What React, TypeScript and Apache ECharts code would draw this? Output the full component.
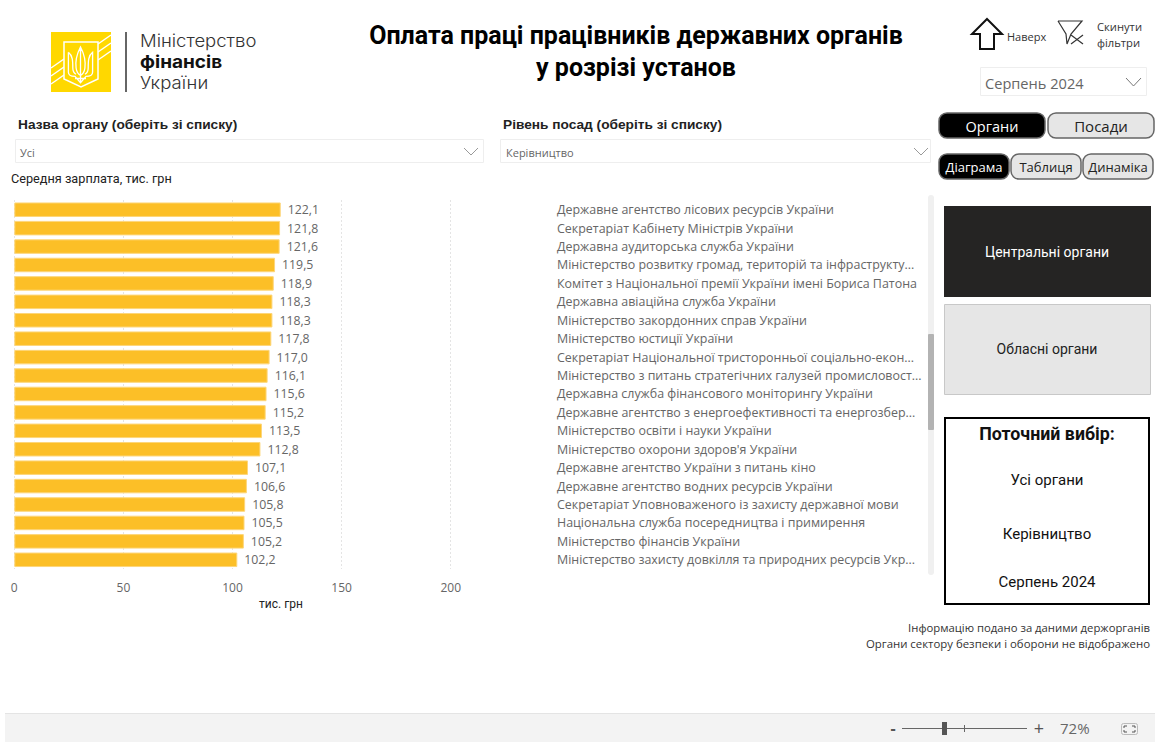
import React, { useEffect, useRef } from "react";
import * as echarts from "echarts";

const categories = [
  "Державне агентство лісових ресурсів України",
  "Секретаріат Кабінету Міністрів України",
  "Державна аудиторська служба України",
  "Міністерство розвитку громад, територій та інфраструкту...",
  "Комітет з Національної премії України імені Бориса Патона",
  "Державна авіаційна служба України",
  "Міністерство закордонних справ України",
  "Міністерство юстиції України",
  "Секретаріат Національної тристоронньої соціально-екон...",
  "Міністерство з питань стратегічних галузей промисловост...",
  "Державна служба фінансового моніторингу України",
  "Державне агентство з енергоефективності та енергозбер...",
  "Міністерство освіти і науки України",
  "Міністерство охорони здоров'я України",
  "Державне агентство України з питань кіно",
  "Державне агентство водних ресурсів України",
  "Секретаріат Уповноваженого із захисту державної мови",
  "Національна служба посередництва і примирення",
  "Міністерство фінансів України",
  "Міністерство захисту довкілля та природних ресурсів Укр...",
];
const salaries = [122.1, 121.8, 121.6, 119.5, 118.9, 118.3, 118.3, 117.8, 117.0, 116.1, 115.6, 115.2, 113.5, 112.8, 107.1, 106.6, 105.8, 105.5, 105.2, 102.2];

const SANS = "'Open Sans', 'Noto Sans', sans-serif";
const ROB = "Roboto, 'Liberation Sans', sans-serif";
const ARIAL = "'Liberation Sans', Arial, sans-serif";

echarts.graphic.registerShape("upArrow", echarts.graphic.extendPath("M15 0L30 15L22 15L22 30L8 30L8 15L0 15Z", {}) as any);
echarts.graphic.registerShape(
  "trident",
  echarts.graphic.extendPath(
    "M17 0L17 34M17 0C14 6 12 12 13 20C13.500 24 15 26 17 27C19 26 20.500 24 21 20C22 12 20 6 17 0ZM6 5L6 24C6 27 9 28 12 28L17 34L22 28C25 28 28 27 28 24L28 5C24 8 24 14 24 20C24 23 23 25 21 26M6 5C10 8 10 14 10 20C10 23 11 25 13 26M12 30C14 30 20 30 22 30",
    {}
  ) as any
);

const txt = (x: number, y: number, text: string, fontSize: number, fill: string, extra: any = {}, el: any = {}) => ({
  type: "text", x, y, silent: true, ...el,
  style: { text, fontSize, fill, fontFamily: SANS, verticalAlign: "middle", ...extra },
});
const rect = (x: number, y: number, w: number, h: number, style: any, r = 0) => ({
  type: "rect", silent: true, shape: { x, y, width: w, height: h, r }, style,
});
const line = (x1: number, y1: number, x2: number, y2: number, stroke: string, lineWidth = 1) => ({
  type: "line", silent: true, shape: { x1, y1, x2, y2 }, style: { stroke, lineWidth },
});
const chevron = (x: number, y: number, w: number, h: number, stroke: string) => ({
  type: "polyline", silent: true,
  shape: { points: [[x, y], [x + w / 2, y + h], [x + w, y]] },
  style: { stroke, fill: "none", lineWidth: 1 },
});
const poly = (points: number[][], stroke: string, lineWidth = 1) => ({
  type: "polyline", silent: true, shape: { points }, style: { stroke, fill: "none", lineWidth },
});
const slicer = (x: number, y: number, w: number, h: number) =>
  rect(x, y, w, h, { fill: "#fff", stroke: "#eeeeee", lineWidth: 1 });
const pill = (x: number, y: number, w: number, h: number, label: string, on: boolean, fs: number) => [
  rect(x, y, w, h, { fill: on ? "#000" : "#e6e6e6", stroke: "#666", lineWidth: 1.5 }, 8),
  txt(x + w / 2, y + h / 2 + 0.5, label, fs, on ? "#fff" : "#222", { align: "center" }),
];

const logo = () => {
  const stripes: any[] = [];
  [0, 1, 2].forEach((i) => {
    stripes.push(line(51, 68 + i * 8, 64, 59 + i * 8, "#fff", 1.5));
    stripes.push(line(98, 52 + i * 8 - 8, 111, 43 + i * 8 - 8, "#fff", 1.5));
  });
  const stretch = { scaleX: 1.09 };
  return [
    rect(51, 32, 60, 60, { fill: "#ffd800" }),
    ...stripes,
    { type: "polygon", silent: true, shape: { points: [[64, 42], [98, 42], [98, 79], [81, 87], [64, 79]] }, style: { fill: "#ffd800", stroke: "#fff", lineWidth: 1.5 } },
    { type: "trident", x: 61.8, y: 47, scaleX: 1.1, scaleY: 1.05, silent: true, style: { fill: "none", stroke: "#fff", lineWidth: 1.2 } },
    line(126, 32, 126, 92, "#333", 1.5),
    txt(140, 41, "Міністерство", 17, "#333", { fontFamily: "Inter, sans-serif", fontWeight: 300 }, stretch),
    txt(140, 62, "фінансів", 17, "#111", { fontFamily: "Inter, sans-serif", fontWeight: 700 }, { scaleX: 1.12 }),
    txt(140, 83, "України", 17, "#333", { fontFamily: "Inter, sans-serif", fontWeight: 300 }, stretch),
  ];
};

const graphics = () => [
  rect(5, 713, 1150, 29, { fill: "#f3f3f3" }),
  line(5, 713.5, 1155, 713.5, "#e4e4e4"),
  ...logo(),
  txt(636, 35, "Оплата праці працівників державних органів", 25, "#000", { align: "center", fontFamily: ROB, fontWeight: 700 }),
  txt(636, 67, "у розрізі установ", 25, "#000", { align: "center", fontFamily: ROB, fontWeight: 700 }),

  { type: "upArrow", x: 972, y: 19, silent: true, style: { fill: "#fff", stroke: "#111", lineWidth: 2 } },
  txt(1007, 36, "Наверх", 11, "#333"),
  poly([[1058, 21], [1082, 21], [1071, 34], [1067, 44], [1066, 34], [1058, 21]], "#333", 1.2),
  line(1071, 35, 1083, 44, "#333", 1.2),
  line(1083, 35, 1071, 44, "#333", 1.2),
  txt(1097, 26, "Скинути", 11.2, "#333"),
  txt(1097, 42, "фільтри", 11.2, "#333"),
  slicer(980.5, 67.5, 166, 28),
  txt(985, 83, "Серпень 2024", 14.6, "#666"),
  chevron(1126, 78, 15, 8, "#777"),

  txt(18, 124, "Назва органу (оберіть зі списку)", 13.7, "#222", { fontWeight: 700, fontFamily: ARIAL }),
  slicer(15.5, 139.5, 468, 23),
  txt(20, 152.5, "Усі", 11, "#666"),
  chevron(464, 148, 14, 7, "#999"),
  txt(503, 124, "Рівень посад (оберіть зі списку)", 13.7, "#222", { fontWeight: 700, fontFamily: ARIAL }),
  slicer(500.5, 139.5, 430, 23),
  txt(506, 152.5, "Керівництво", 11, "#666"),
  chevron(914, 148, 14, 7, "#999"),

  txt(11, 178, "Середня зарплата, тис. грн", 12.7, "#222", { fontFamily: ROB }),
  txt(281, 604, "тис. грн", 12, "#222", { align: "center", fontFamily: ROB }),

  rect(928, 195, 6, 380, { fill: "#f0f0f0" }, 3),
  rect(928, 334, 6, 96, { fill: "#b3b3b3" }, 1),

  ...pill(939, 113, 106, 25, "Органи", true, 14.5),
  ...pill(1048, 113, 106, 25, "Посади", false, 15),
  ...pill(939, 154, 70, 25, "Діаграма", true, 13),
  ...pill(1011, 154, 70, 25, "Таблиця", false, 13),
  ...pill(1083, 154, 70, 25, "Динаміка", false, 13),

  rect(944, 206, 207, 91, { fill: "#252423" }),
  txt(1047, 252, "Центральні органи", 14, "#fff", { align: "center", fontFamily: ROB }),
  rect(944.5, 304.5, 206, 90, { fill: "#e6e6e6", stroke: "#c8c8c8", lineWidth: 1 }),
  txt(1047, 349, "Обласні органи", 14, "#222", { align: "center", fontFamily: ROB }),
  rect(945, 418, 204, 186, { fill: "#fff", stroke: "#000", lineWidth: 2 }),
  txt(1047, 433, "Поточний вибір:", 17.8, "#111", { align: "center", fontFamily: ROB, fontWeight: 700 }),
  txt(1047, 480, "Усі органи", 15, "#111", { align: "center", fontFamily: ROB }),
  txt(1047, 534, "Керівництво", 15, "#111", { align: "center", fontFamily: ROB }),
  txt(1047, 582, "Серпень 2024", 15, "#111", { align: "center", fontFamily: ROB }),

  txt(1150, 627, "Інформацію подано за даними держорганів", 11.3, "#333", { align: "right" }),
  txt(1150, 643, "Органи сектору безпеки і оборони не відображено", 11.4, "#333", { align: "right" }),

  txt(893, 728, "-", 16, "#555", { align: "center", fontWeight: 700 }),
  line(902, 728.5, 1027, 728.5, "#666"),
  rect(942, 722, 5, 13, { fill: "#555" }),
  line(964.5, 725, 964.5, 732, "#666"),
  txt(1039, 728, "+", 18, "#555", { align: "center" }),
  txt(1060, 728, "72%", 15, "#666"),
  rect(1121.5, 723.5, 16, 11, { fill: "none", stroke: "#bbb", lineWidth: 1 }, 2),
  poly([[1124, 728], [1124, 726], [1127, 726]], "#555"),
  poly([[1132, 726], [1135, 726], [1135, 728]], "#555"),
  poly([[1124, 730], [1124, 732], [1127, 732]], "#555"),
  poly([[1132, 732], [1135, 732], [1135, 730]], "#555"),
];

export default function App() {
  const ref = useRef<HTMLDivElement>(null);
  useEffect(() => {
    document.body.style.margin = "0";
    const chart = echarts.init(ref.current!, undefined, { renderer: "svg" });
    chart.setOption({
      animation: false,
      backgroundColor: "#fff",
      textStyle: { fontFamily: SANS },
      grid: { left: 14.3, width: 436.4, top: 200.5, height: 368.5 },
      xAxis: {
        type: "value", min: 0, max: 200, interval: 50,
        axisLine: { show: false }, axisTick: { show: false },
        splitLine: { lineStyle: { type: [1, 3], color: "#c8c8c8", width: 1 } },
        axisLabel: { color: "#666", fontSize: 12, margin: 12, fontFamily: SANS },
      },
      yAxis: {
        type: "category", data: categories, inverse: true, position: "right", offset: 106.3,
        axisLine: { show: false }, axisTick: { show: false }, splitLine: { show: false },
        axisLabel: { color: "#666", fontSize: 12.45, align: "left", margin: 0, fontFamily: SANS, interval: 0 },
      },
      series: [{
        type: "bar", data: salaries, barWidth: 14.5,
        itemStyle: { color: "#fcbf27", borderColor: "#fdd67a", borderWidth: 1 },
        label: { show: true, position: "right", distance: 7, color: "#666", fontSize: 12.3, fontFamily: SANS,
          formatter: (p: any) => p.value.toFixed(1).replace(".", ",") },
      }],
      graphic: { elements: graphics() },
    });
    return () => chart.dispose();
  }, []);
  return <div ref={ref} style={{ width: 1166, height: 742 }} />;
}
